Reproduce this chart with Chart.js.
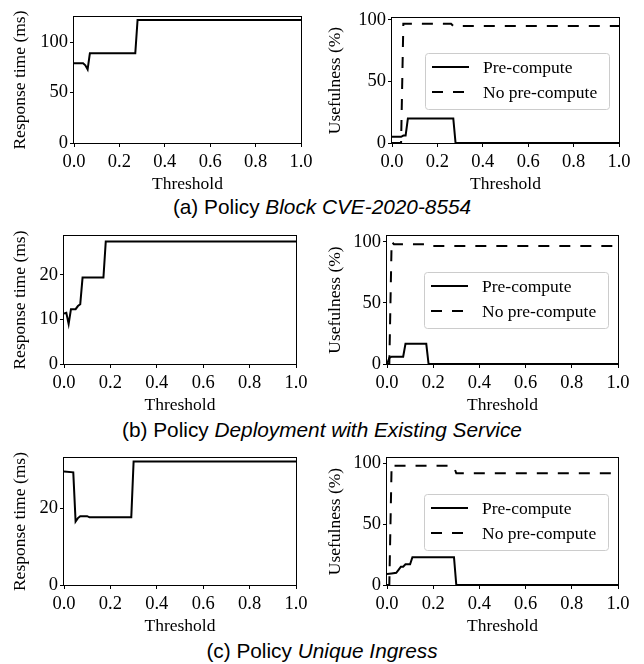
<!DOCTYPE html>
<html>
<head>
<meta charset="utf-8">
<script src="https://cdn.jsdelivr.net/npm/chart.js@4"></script>
<style>
  body { margin: 0; background: #fff; }
  #fig { position: relative; width: 644px; height: 664px; overflow: hidden; }
  #fig canvas { position: absolute; }
  .caption {
    position: absolute; left: 0; width: 644px; text-align: center;
    font-family: "Liberation Sans", Arial, Helvetica, sans-serif;
    font-size: 20.8px; line-height: 24px; color: #000; white-space: nowrap;
  }
</style>
</head>
<body>
<div id="fig">
  <canvas id="aTime"></canvas>
  <canvas id="aUse"></canvas>
  <canvas id="bTime"></canvas>
  <canvas id="bUse"></canvas>
  <canvas id="cTime"></canvas>
  <canvas id="cUse"></canvas>
  <div class="caption" style="top:195px">(a) Policy <i>Block CVE-2020-8554</i></div>
  <div class="caption" style="top:418px">(b) Policy <i>Deployment with Existing Service</i></div>
  <div class="caption" style="top:639px">(c) Policy <i>Unique Ingress</i></div>
</div>
<script>
// shared
const thresholdTicks = [0, 0.2, 0.4, 0.6, 0.8, 1.0];
const usefulTicks = [0, 50, 100];
const labelPre = "Pre-compute";
const labelNoPre = "No pre-compute";

// (a) Block CVE-2020-8554
const aTimeX = [0, 0.04, 0.05, 0.06, 0.07, 0.27, 0.28, 1.0];
const aTimeY = [79, 79, 77, 73, 89, 89, 122, 122];
const aTimeTicks = [0, 50, 100];
const aPreX = [0, 0.04, 0.05, 0.06, 0.07, 0.27, 0.28, 1.0];
const aPreY = [5, 5, 6, 6, 20, 20, 0, 0];
const aNoPreX = [0, 0.04, 0.05, 0.26, 0.27, 1.0];
const aNoPreY = [0, 0, 97, 97, 95, 95];

// (b) Deployment with Existing Service
const bTimeX = [0, 0.01, 0.02, 0.03, 0.05, 0.06, 0.07, 0.08, 0.17, 0.18, 1.0];
const bTimeY = [11.3, 11.5, 9, 12.3, 12.3, 13, 13.4, 19.4, 19.4, 27.5, 27.5];
const bTimeTicks = [0, 10, 20];
const bPreX = [0, 0.01, 0.02, 0.07, 0.08, 0.17, 0.18, 1.0];
const bPreY = [0, 5, 6, 6, 16.5, 16.5, 0, 0];
const bNoPreX = [0, 0.01, 0.02, 0.03, 0.17, 0.18, 1.0];
const bNoPreY = [0, 0, 100, 98, 98, 96.5, 96.5];

// (c) Unique Ingress
const cTimeX = [0, 0.04, 0.05, 0.06, 0.07, 0.1, 0.11, 0.29, 0.3, 1.0];
const cTimeY = [29.5, 29.3, 16.5, 17.4, 17.9, 17.9, 17.6, 17.6, 32.1, 32.1];
const cTimeTicks = [0, 20];
const cPreX = [0, 0.02, 0.04, 0.05, 0.06, 0.07, 0.08, 0.1, 0.11, 0.29, 0.3, 1.0];
const cPreY = [9, 9.5, 10, 12.5, 15, 15, 17, 17, 22.8, 22.8, 0, 0];
const cNoPreX = [0, 0.01, 0.02, 0.03, 0.28, 0.29, 0.3, 1.0];
const cNoPreY = [0, 0, 99, 98, 98, 97, 91.8, 91.8];

const SERIF = '"Liberation Serif", "Times New Roman", Times, serif';
Chart.defaults.font.family = SERIF;
Chart.defaults.font.size = 17.5;
Chart.defaults.color = "#000";

const TOP_PAD = 12, RIGHT_PAD = 16, X_AXIS_H = 52;
const tickFont = { family: SERIF, size: 18.5 };

function pts(xs, ys) {
  return xs.map((x, i) => ({ x: x, y: ys[i] }));
}

function solid(label, xs, ys) {
  return { label: label, data: pts(xs, ys), borderColor: "#000", borderWidth: 2, pointRadius: 0, tension: 0 };
}

function dashed(label, xs, ys) {
  const d = solid(label, xs, ys);
  d.borderDash = [11, 10];
  return d;
}

// spines on all four sides, like matplotlib
const frame = {
  id: "frame",
  afterDatasetsDraw(chart) {
    const a = chart.chartArea;
    const ctx = chart.ctx;
    ctx.save();
    ctx.strokeStyle = "#000";
    ctx.lineWidth = 1;
    ctx.strokeRect(Math.round(a.left) - 0.5, Math.round(a.top) - 0.5,
      Math.round(a.right - a.left) + 1, Math.round(a.bottom - a.top) + 1);
    ctx.restore();
  }
};

// legend box at center right of the plot
const boxLegend = {
  id: "boxLegend",
  afterDraw(chart, args, opts) {
    if (!opts.show) return;
    const a = chart.chartArea;
    const ctx = chart.ctx;
    const w = 184, h = 56;
    const x0 = Math.round(a.right - 10 - w);
    const y0 = Math.round((a.top + a.bottom) / 2 - h / 2);
    ctx.save();
    ctx.fillStyle = "rgba(255,255,255,0.8)";
    ctx.strokeStyle = "#cccccc";
    ctx.lineWidth = 1;
    ctx.beginPath();
    ctx.roundRect(x0 + 0.5, y0 + 0.5, w, h, 3);
    ctx.fill();
    ctx.stroke();
    chart.data.datasets.forEach((ds, i) => {
      const y = y0 + 14 + i * 25;
      ctx.setLineDash(ds.borderDash || []);
      ctx.lineWidth = ds.borderWidth;
      ctx.strokeStyle = ds.borderColor;
      ctx.beginPath();
      ctx.moveTo(x0 + 7, y);
      ctx.lineTo(x0 + 44, y);
      ctx.stroke();
      ctx.setLineDash([]);
      ctx.fillStyle = "#000";
      ctx.font = "17.5px " + SERIF;
      ctx.textBaseline = "middle";
      ctx.fillText(ds.label, x0 + 58, y + 1);
    });
    ctx.restore();
  }
};

function makeChart(p, yMax, yTicks, yTitle, datasets, legend) {
  const el = document.getElementById(p.id);
  const w = p.yw + (p.r - p.l) + RIGHT_PAD;
  const h = TOP_PAD + (p.b - p.t) + X_AXIS_H;
  el.width = w;
  el.height = h;
  el.style.left = (p.l - p.yw) + "px";
  el.style.top = (p.t - TOP_PAD) + "px";
  el.style.width = w + "px";
  el.style.height = h + "px";

  return new Chart(el.getContext("2d"), {
    type: "line",
    data: { datasets: datasets },
    plugins: [frame, boxLegend],
    options: {
      responsive: false,
      animation: false,
      layout: { padding: { top: TOP_PAD, right: RIGHT_PAD, left: 0, bottom: 0 } },
      plugins: {
        legend: { display: false },
        tooltip: { enabled: false },
        boxLegend: { show: legend }
      },
      scales: {
        x: {
          type: "linear",
          min: 0,
          max: 1,
          afterBuildTicks: (s) => { s.ticks = thresholdTicks.map((v) => ({ value: v })); },
          afterFit: (s) => { s.height = X_AXIS_H; },
          ticks: { padding: 4, maxRotation: 0, font: tickFont, callback: (v) => Number(v).toFixed(1) },
          grid: { drawOnChartArea: false, drawTicks: true, tickLength: 4, color: "#000" },
          border: { display: false },
          title: { display: true, text: "Threshold", padding: 0 }
        },
        y: {
          type: "linear",
          min: 0,
          max: yMax,
          afterBuildTicks: (s) => { s.ticks = yTicks.map((v) => ({ value: v })); },
          afterFit: (s) => { s.width = p.yw; },
          ticks: { padding: 2, font: tickFont },
          grid: { drawOnChartArea: false, drawTicks: true, tickLength: 4, color: "#000" },
          border: { display: false },
          title: { display: true, text: yTitle, padding: 0 }
        }
      }
    }
  });
}

const panels = {
  aTime: { id: "aTime", l: 74, t: 16, r: 301, b: 143, yw: 64 },
  aUse: { id: "aUse", l: 392, t: 17, r: 619, b: 143, yw: 67 },
  bTime: { id: "bTime", l: 64, t: 235, r: 296, b: 364, yw: 54 },
  bUse: { id: "bUse", l: 387, t: 235, r: 618, b: 364, yw: 62 },
  cTime: { id: "cTime", l: 64, t: 457, r: 296, b: 585, yw: 54 },
  cUse: { id: "cUse", l: 387, t: 457, r: 618, b: 585, yw: 62 }
};

const timeTitle = "Response time (ms)";
const useTitle = "Usefulness (%)";

makeChart(panels.aTime, 124.8, aTimeTicks, timeTitle, [solid("", aTimeX, aTimeY)], false);
makeChart(panels.aUse, 101.5, usefulTicks, useTitle,
  [solid(labelPre, aPreX, aPreY), dashed(labelNoPre, aNoPreX, aNoPreY)], true);
makeChart(panels.bTime, 28.7, bTimeTicks, timeTitle, [solid("", bTimeX, bTimeY)], false);
makeChart(panels.bUse, 104.6, usefulTicks, useTitle,
  [solid(labelPre, bPreX, bPreY), dashed(labelNoPre, bNoPreX, bNoPreY)], true);
makeChart(panels.cTime, 33, cTimeTicks, timeTitle, [solid("", cTimeX, cTimeY)], false);
makeChart(panels.cUse, 104.3, usefulTicks, useTitle,
  [solid(labelPre, cPreX, cPreY), dashed(labelNoPre, cNoPreX, cNoPreY)], true);
</script>
</body>
</html>
